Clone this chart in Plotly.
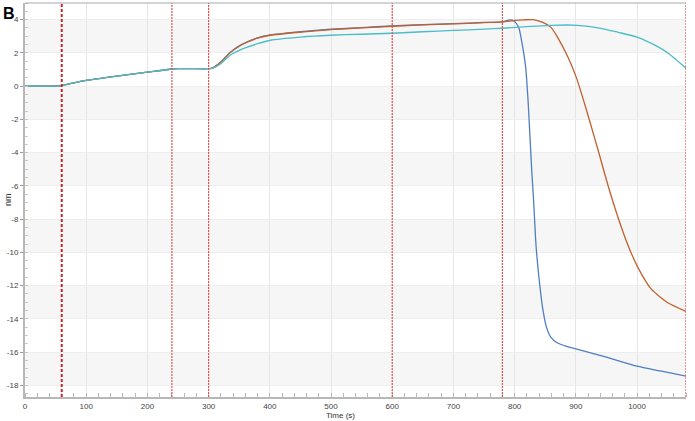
import plotly.graph_objects as go

# ---------------- data ----------------
t_blue = [0, 30, 60, 80, 100, 150, 200, 240, 250, 270, 300, 306, 320, 335, 350, 363, 380, 401, 450, 499, 550, 600,
          650, 700, 750, 780, 790, 796, 801, 807, 812, 818, 822, 825, 828, 831, 835, 840, 846, 852, 859, 870, 885,
          900, 950, 1000, 1040, 1080]
y_blue = [0, 0, 0.03, 0.2, 0.34, 0.6, 0.84, 1.03, 1.05, 1.05, 1.05, 1.08, 1.45, 2.02, 2.42, 2.66, 2.9, 3.08, 3.27, 3.42, 3.52, 3.62,
          3.7, 3.76, 3.83, 3.87, 3.97, 3.97, 3.85, 3.5, 2.6, 1.15, -0.9, -3.0, -5.1, -6.9, -9.6, -11.6, -13.4, -14.5, -15.1, -15.45, -15.65,
          -15.8, -16.3, -16.85, -17.15, -17.45]

t_orange = [0, 30, 60, 80, 100, 150, 200, 240, 250, 270, 300, 306, 320, 335, 350, 363, 380, 401, 450, 499, 550, 600,
            650, 700, 750, 780, 800, 815, 830, 845, 859, 870, 887, 900, 913, 925, 936, 952, 969, 985, 1002, 1023, 1051, 1080]
y_orange = [0, 0, 0.03, 0.2, 0.34, 0.6, 0.84, 1.03, 1.05, 1.05, 1.05, 1.08, 1.45, 2.0, 2.4, 2.64, 2.88, 3.06, 3.25, 3.4, 3.5, 3.6,
            3.68, 3.74, 3.82, 3.86, 3.95, 3.99, 4.0, 3.85, 3.55, 2.95, 1.75, 0.6, -0.9, -2.4, -3.8, -5.9, -7.9, -9.55, -10.95, -12.2, -13.05, -13.55]

t_cyan = [0, 30, 60, 80, 100, 150, 200, 240, 250, 270, 300, 306, 320, 335, 350, 363, 380, 401, 450, 499, 550, 600,
          650, 700, 750, 780, 820, 859, 903, 941, 969, 1000, 1030, 1051, 1080]
y_cyan = [0, 0, 0.03, 0.2, 0.34, 0.6, 0.84, 1.03, 1.05, 1.05, 1.05, 1.07, 1.35, 1.86, 2.15, 2.34, 2.55, 2.76, 2.95, 3.06, 3.12, 3.18,
          3.27, 3.35, 3.43, 3.48, 3.58, 3.66, 3.66, 3.48, 3.24, 2.95, 2.45, 1.98, 1.08]

step_times = [60, 240, 300, 600, 780, 1080]
x_ticks = [0, 100, 200, 300, 400, 500, 600, 700, 800, 900, 1000]
y_ticks = [-18, -16, -14, -12, -10, -8, -6, -4, -2, 0, 2, 4]
band_lows = [-18, -14, -10, -6, -2, 2]

# ---------------- figure ----------------
fig = go.Figure()
fig.add_trace(go.Scatter(x=t_blue, y=y_blue, mode="lines", line=dict(color="#4f7fc0", width=1.3, shape="spline", smoothing=0.6),
                         showlegend=False))
fig.add_trace(go.Scatter(x=t_orange, y=y_orange, mode="lines", line=dict(color="#c0602e", width=1.3, shape="spline", smoothing=0.6),
                         showlegend=False))
fig.add_trace(go.Scatter(x=t_cyan, y=y_cyan, mode="lines", line=dict(color="#4bbcc8", width=1.3, shape="spline", smoothing=0.6),
                         showlegend=False))

shapes = []
for lo in band_lows:
    shapes.append(dict(type="rect", xref="paper", yref="y", x0=0, x1=1, y0=lo, y1=lo + 2,
                       fillcolor="#f6f6f6", line=dict(width=0), layer="below"))
for i, t in enumerate(step_times):
    if i == 0:
        shapes.append(dict(type="line", xref="x", yref="paper", x0=t, x1=t, y0=0, y1=1,
                           line=dict(color="#c0282a", width=2, dash="3px,2px"), layer="above"))
    else:
        shapes.append(dict(type="line", xref="x", yref="paper", x0=t, x1=t, y0=0, y1=1,
                           line=dict(color="#dd5555", width=1.2, dash="2px,1px"), layer="above"))
# top border
shapes.append(dict(type="line", xref="paper", yref="paper", x0=0, x1=1, y0=1, y1=1,
                   line=dict(color="#a8a8a8", width=1)))

fig.update_layout(
    width=695, height=421,
    margin=dict(l=25, r=9, t=3, b=24),
    paper_bgcolor="white", plot_bgcolor="white",
    font=dict(family="Liberation Sans, Arial, sans-serif", size=8, color="#444444"),
    shapes=shapes,
    annotations=[
        dict(text="<b>B</b>", xref="paper", yref="paper", x=0, y=1, xshift=-24, yshift=0,
             xanchor="left", yanchor="top", showarrow=False,
             font=dict(size=16, color="black", family="Liberation Sans, Arial, sans-serif")),
        dict(text="Time (s)", xref="x", yref="paper", x=515, y=0, yshift=-12,
             xanchor="center", yanchor="top", showarrow=False, font=dict(size=8, color="#333333")),
        dict(text="nm", xref="paper", yref="paper", x=0, y=0.5, xshift=-17, textangle=-90,
             xanchor="center", yanchor="middle", showarrow=False, font=dict(size=9, color="#333333")),
    ],
    xaxis=dict(range=[0, 1080], tickvals=x_ticks, ticktext=[str(v) for v in x_ticks], automargin=False,
               showgrid=True, gridcolor="#e6e6e6", gridwidth=1, zeroline=False,
               showline=True, linecolor="#b8b8b8", linewidth=2,
               ticks="", minor=dict(dtick=20, ticks="inside", ticklen=4, tickcolor="#b8b8b8", showgrid=False)),
    yaxis=dict(range=[-18.7, 5], tickvals=y_ticks, ticktext=[str(v) for v in y_ticks], automargin=False,
               showgrid=True, gridcolor="#eeeeee", gridwidth=1, zeroline=False,
               showline=True, linecolor="#b8b8b8", linewidth=2,
               ticks="outside", ticklen=3, tickcolor="#999999",
               minor=dict(dtick=0.5, ticks="inside", ticklen=3, tickcolor="#c8c8c8", showgrid=False)),
)

fig.write_html("out.html", config={"displayModeBar": False},
               post_script="document.body.style.margin='0';document.body.style.overflow='hidden';")
